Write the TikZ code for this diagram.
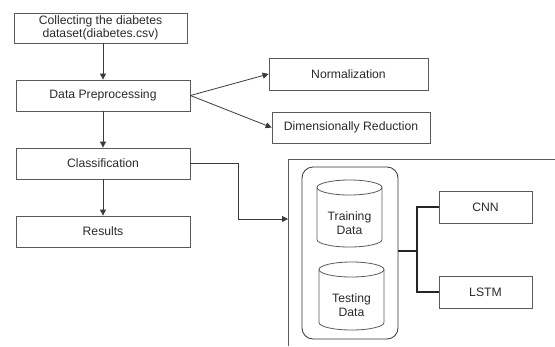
\documentclass[tikz,border=0pt]{standalone}
\usepackage{fontspec}
\setmainfont{Liberation Sans}
\usetikzlibrary{arrows.meta}
\definecolor{boxline}{HTML}{5A5A5A}
\definecolor{txt}{HTML}{2A2A2A}
\definecolor{arr}{HTML}{3A3A3A}
\begin{document}
\begin{tikzpicture}[x=1pt,y=-1pt,
  every node/.style={font=\fontsize{12.2}{15}\selectfont, text=txt},
  procbox/.style={draw=boxline, line width=0.8pt, rectangle, inner sep=0pt, align=center},
  plain/.style={inner sep=0pt, align=center},
  flow/.style={draw=arr, line width=0.8pt, -{Triangle[length=6pt,width=6pt]}},
  bus/.style={draw=black!85, line width=1.3pt},
  cyl/.style={draw=boxline, line width=0.8pt}
]
\useasboundingbox (0,0) rectangle (555,346);

% left column
\node[procbox, minimum width=173pt, minimum height=30pt] (collect) at (100.5,28) {Collecting the diabetes\\[-2pt]dataset(diabetes.csv)};
\node[procbox, minimum width=174pt, minimum height=31pt] (prep) at (103,95.5) {Data Preprocessing};
\node[procbox, minimum width=174pt, minimum height=31pt] (class) at (103,163.5) {Classification};
\node[procbox, minimum width=174pt, minimum height=31pt] (res) at (103,231.5) {Results};

% right of preprocessing
\node[procbox, minimum width=159pt, minimum height=32pt] (norm) at (348.5,74) {Normalization};
\node[procbox, minimum width=158pt, minimum height=31pt] (dim) at (351,127.5) {Dimensionally Reduction};

\draw[flow] (collect.south -| 103,0) -- (prep.north);
\draw[flow] (prep.south) -- (class.north);
\draw[flow] (class.south) -- (res.north);
\draw[flow] (prep.east) -- (norm.west);
\draw[flow] (prep.east) -- (dim.west);

% container (open frame)
\coordinate (frameTL) at (288,159);
\coordinate (frameTR) at (555,159);
\coordinate (frameBL) at (288,346);
\draw[draw=boxline, line width=0.8pt] (frameTR) -- (frameTL) -- (frameBL);
\coordinate (inlet) at (288,219);
\draw[flow] (class.east) -- (238,163.5) |- (inlet);

% data group
\node[draw=black!80, line width=0.8pt, rounded corners=11pt, minimum width=96pt, minimum height=172pt, inner sep=0pt] (grp) at (350,253) {};

% training cylinder
\draw[cyl] (317,187.5) -- (317,239.5) arc[start angle=180, end angle=0, x radius=32.5, y radius=7.5] -- (382,187.5);
\draw[cyl] (349.5,187.5) ellipse [x radius=32.5, y radius=7.5];
\node[plain] (train) at (349.5,223) {Training\\[-1pt]Data};

% testing cylinder
\draw[cyl] (319,269.5) -- (319,322.5) arc[start angle=180, end angle=0, x radius=32.5, y radius=7.5] -- (384,269.5);
\draw[cyl] (351.5,269.5) ellipse [x radius=32.5, y radius=7.5];
\node[plain] (test) at (351.5,305) {Testing\\[-1pt]Data};

% models
\node[procbox, minimum width=93pt, minimum height=32pt] (cnn) at (485.5,207) {CNN};
\node[procbox, minimum width=93pt, minimum height=32pt] (lstm) at (485.5,292) {LSTM};

\coordinate (fork) at (417,251);
\draw[bus] (grp.east |- fork) -- (fork);
\draw[bus] (cnn.west) -| (fork) |- (lstm.west);
\end{tikzpicture}
\end{document}
